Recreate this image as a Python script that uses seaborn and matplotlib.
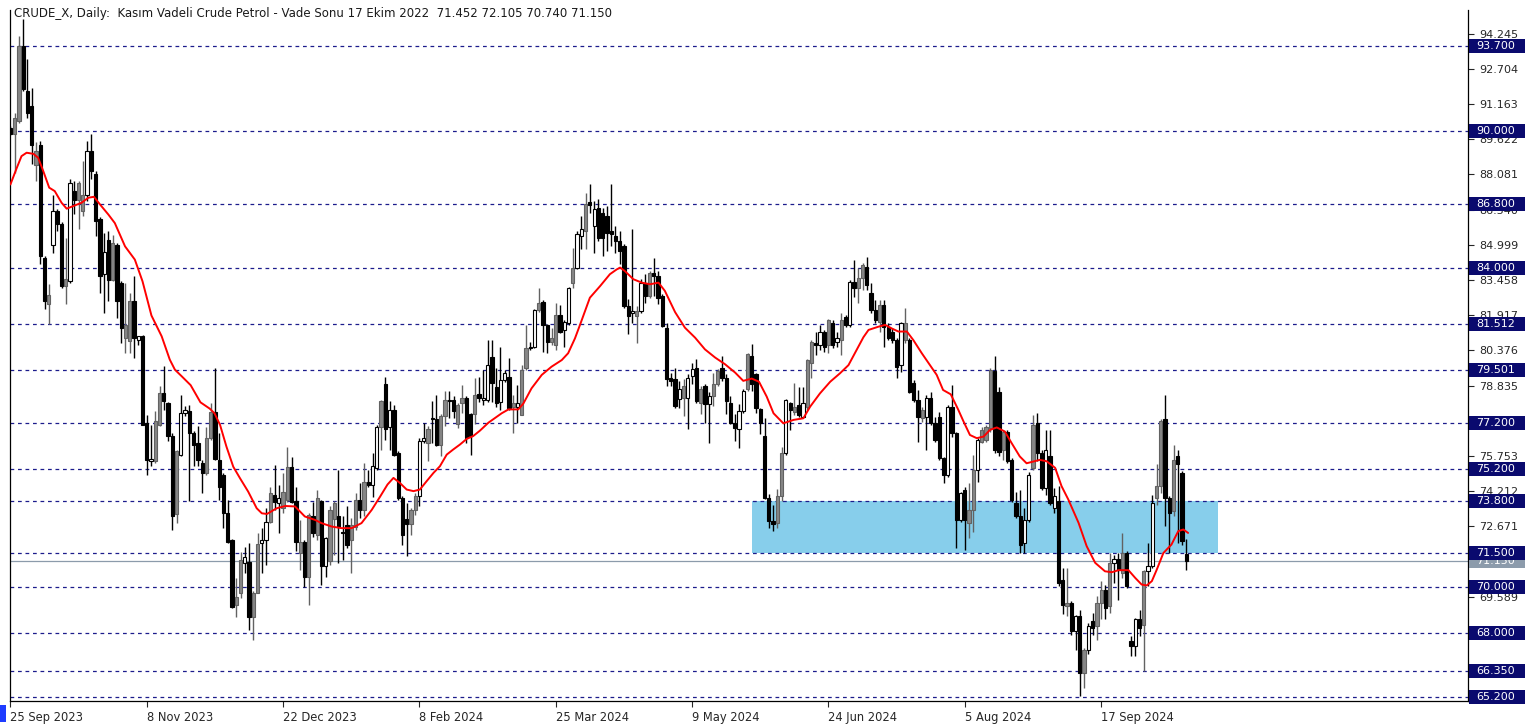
import matplotlib
matplotlib.use("Agg")
import matplotlib.pyplot as plt
import matplotlib.transforms as mtransforms
from matplotlib.patches import Rectangle
import seaborn as sns

# daily candles, bar index = trading day
opens = [90.12, 89.83, 90.42, 93.70, 91.73, 91.07, 88.50, 89.39, 84.40, 82.40,
         85.01, 86.47, 85.89, 83.20, 83.41, 87.35, 86.98, 86.47, 87.20, 89.10,
         88.08, 86.11, 83.70, 85.22, 83.47, 85.00, 83.33, 80.92, 80.77, 82.52,
         80.84, 80.99, 77.19, 75.55, 75.55, 77.12, 78.51, 78.07, 76.61, 73.20,
         75.80, 77.63, 77.70, 76.76, 76.32, 75.43, 75.00, 76.52, 77.69, 75.57,
         74.92, 73.24, 72.07, 69.22, 69.73, 71.05, 71.12, 68.71, 69.76, 71.93,
         72.07, 72.87, 74.04, 73.68, 73.46, 73.82, 75.28, 73.76, 71.49, 72.00,
         70.47, 73.10, 72.30, 73.76, 70.91, 71.13, 73.00, 73.10, 72.44, 72.73,
         72.08, 72.66, 73.83, 73.39, 74.63, 74.49, 75.22, 77.04, 78.90, 77.00,
         77.78, 75.89, 73.92, 72.97, 72.75, 73.40, 73.99, 76.40, 76.32, 77.42,
         77.35, 76.25, 77.49, 78.22, 78.22, 77.13, 78.08, 78.30, 77.57, 77.57,
         78.45, 78.20, 78.20, 80.10, 78.78, 78.13, 79.08, 79.22, 77.91, 77.91,
         77.55, 79.59, 80.54, 80.54, 82.14, 82.50, 81.49, 80.75, 80.61, 81.92,
         81.27, 81.56, 83.34, 84.00, 85.38, 85.60, 86.87, 85.82, 86.62, 86.41,
         86.26, 85.60, 85.38, 85.16, 84.95, 82.32, 82.00, 81.88, 82.10, 83.34,
         82.76, 83.78, 83.63, 82.76, 81.37, 79.18, 79.11, 78.23, 78.31, 78.31,
         79.26, 79.62, 78.09, 78.82, 78.01, 78.38, 78.89, 79.62, 79.18, 78.09,
         77.21, 76.92, 77.72, 78.67, 80.13, 79.33, 77.80, 76.63, 73.93, 72.90,
         72.80, 74.00, 75.90, 78.05, 77.69, 77.98, 77.47, 77.91, 79.81, 80.68,
         80.61, 81.20, 80.61, 81.56, 80.76, 80.83, 81.85, 81.49, 83.38, 83.09,
         83.53, 84.04, 82.87, 82.14, 81.63, 82.36, 81.41, 81.20, 80.83, 79.73,
         80.83, 80.83, 78.93, 78.20, 77.40, 77.47, 78.27, 77.18, 77.47, 75.65,
         74.92, 77.91, 76.74, 72.95, 74.27, 72.81, 73.39, 75.14, 76.38, 76.46,
         76.97, 79.45, 78.57, 76.02, 76.82, 75.58, 73.68, 73.10, 71.93, 72.95,
         75.21, 77.19, 75.88, 74.34, 75.73, 73.48, 73.77, 70.34, 69.17, 69.32,
         68.08, 68.73, 66.25, 67.27, 68.51, 68.29, 69.32, 69.90, 69.17, 71.07,
         71.24, 70.63, 71.50, 67.64, 67.42, 68.59, 68.37, 70.70, 70.92, 73.91,
         74.43, 77.35, 73.91, 73.33, 75.74, 75.01, 71.452]
highs = [90.20, 90.78, 94.14, 94.90, 93.12, 91.88, 89.50, 89.54, 84.50, 83.26,
         87.20, 86.55, 86.00, 85.31, 87.86, 87.79, 87.79, 88.66, 89.54, 89.83,
         88.23, 86.20, 85.52, 85.59, 85.44, 85.08, 83.40, 83.33, 82.89, 83.62,
         81.00, 81.06, 77.56, 77.10, 77.71, 78.80, 79.68, 78.10, 76.76, 76.03,
         78.43, 77.92, 78.00, 76.83, 77.05, 75.57, 77.03, 78.06, 79.59, 76.74,
         75.00, 73.82, 72.10, 70.39, 71.56, 71.78, 71.92, 69.84, 72.36, 72.58,
         73.46, 74.41, 75.35, 74.48, 74.99, 76.16, 75.72, 74.41, 72.95, 72.08,
         73.24, 73.75, 74.27, 73.83, 72.22, 73.54, 73.76, 75.14, 73.10, 73.54,
         73.02, 74.12, 74.56, 75.43, 75.14, 75.87, 77.11, 78.21, 79.20, 78.15,
         78.00, 75.96, 73.99, 73.70, 73.48, 74.13, 76.54, 77.20, 77.05, 78.15,
         78.44, 77.57, 78.59, 78.59, 78.37, 78.08, 78.88, 78.37, 77.64, 79.17,
         79.20, 79.50, 80.83, 80.83, 79.59, 80.54, 79.51, 80.03, 78.42, 78.86,
         79.73, 81.48, 80.75, 82.20, 83.09, 82.58, 81.55, 81.34, 82.43, 82.36,
         81.71, 83.15, 84.87, 85.60, 86.26, 87.28, 87.65, 86.92, 86.99, 86.62,
         86.70, 87.65, 85.82, 85.60, 85.02, 82.61, 85.68, 82.32, 83.49, 83.71,
         83.85, 84.44, 83.85, 82.83, 81.59, 79.40, 79.62, 79.04, 79.11, 79.33,
         79.84, 79.99, 78.82, 78.89, 78.53, 79.40, 79.55, 80.13, 79.33, 78.38,
         77.58, 78.01, 78.67, 80.28, 80.64, 79.40, 77.85, 77.43, 74.10, 73.60,
         74.30, 76.16, 78.25, 78.13, 78.93, 78.78, 78.78, 80.00, 80.83, 81.20,
         81.49, 81.27, 81.75, 81.70, 81.20, 81.99, 81.92, 83.46, 84.33, 83.97,
         84.19, 84.48, 83.31, 82.58, 82.58, 82.58, 81.56, 81.34, 80.90, 81.60,
         82.21, 80.90, 79.08, 78.64, 77.91, 78.42, 78.57, 77.47, 77.69, 75.72,
         77.98, 78.86, 76.81, 74.19, 74.41, 74.56, 75.80, 76.53, 77.04, 77.11,
         79.60, 80.11, 78.79, 76.89, 76.89, 75.65, 74.19, 74.27, 73.46, 75.07,
         77.55, 77.63, 76.02, 76.89, 76.89, 74.35, 74.43, 70.85, 70.85, 69.39,
         68.80, 69.02, 67.34, 68.44, 68.88, 69.61, 70.26, 70.12, 71.50, 71.43,
         71.50, 72.38, 71.58, 67.86, 68.66, 69.02, 70.75, 71.94, 74.06, 75.38,
         77.35, 78.44, 73.99, 76.25, 76.03, 75.08, 72.105]
lows = [89.80, 88.15, 90.35, 91.73, 90.56, 88.52, 87.80, 84.14, 82.17, 81.51,
        84.65, 85.60, 83.12, 82.39, 83.34, 86.33, 85.67, 86.25, 86.91, 87.86,
        85.38, 82.90, 82.01, 82.52, 83.40, 81.80, 80.70, 80.26, 80.26, 80.04,
        80.62, 77.10, 74.93, 75.30, 75.44, 77.05, 77.78, 76.40, 72.52, 72.80,
        75.74, 77.49, 73.80, 75.30, 75.30, 74.11, 74.92, 76.45, 75.57, 73.82,
        72.58, 71.93, 69.08, 68.71, 69.51, 70.61, 68.13, 67.69, 69.73, 70.61,
        70.97, 72.80, 73.39, 72.36, 73.24, 73.75, 73.68, 71.57, 70.76, 70.03,
        69.23, 72.22, 72.08, 70.10, 70.47, 70.98, 71.42, 71.05, 71.20, 71.71,
        70.61, 72.51, 73.02, 73.10, 74.41, 73.97, 75.14, 76.02, 76.47, 76.03,
        75.74, 73.84, 71.87, 71.36, 72.31, 73.18, 73.55, 76.32, 75.52, 76.32,
        76.18, 75.74, 77.05, 77.42, 77.40, 76.98, 77.64, 76.32, 75.81, 77.13,
        78.10, 78.00, 78.13, 78.13, 77.91, 77.76, 79.00, 77.76, 76.74, 77.20,
        77.55, 79.51, 80.39, 80.50, 82.07, 80.32, 80.25, 80.61, 80.39, 81.12,
        80.54, 81.49, 83.12, 83.92, 84.80, 84.80, 86.41, 84.65, 85.16, 84.51,
        84.73, 84.95, 84.65, 84.14, 82.24, 81.07, 81.59, 80.71, 82.03, 82.46,
        82.68, 82.76, 82.39, 81.40, 78.82, 78.82, 77.87, 77.87, 77.50, 76.92,
        78.89, 78.09, 77.58, 77.21, 76.34, 77.94, 78.82, 79.04, 77.58, 77.14,
        76.41, 76.12, 77.65, 78.60, 78.60, 77.65, 76.70, 73.85, 72.60, 72.45,
        72.60, 73.80, 75.80, 76.89, 77.54, 77.47, 77.40, 77.76, 79.15, 80.17,
        80.39, 80.32, 80.25, 80.46, 80.54, 80.17, 81.41, 81.41, 82.73, 82.43,
        83.02, 83.02, 82.00, 81.56, 81.20, 80.54, 80.83, 80.68, 79.15, 79.44,
        80.68, 78.49, 78.13, 76.38, 77.25, 76.01, 77.10, 76.38, 75.57, 74.55,
        74.84, 76.60, 71.71, 72.88, 71.64, 72.15, 72.44, 74.63, 76.31, 76.38,
        76.82, 75.87, 75.73, 75.58, 75.43, 73.75, 73.02, 71.49, 71.49, 72.88,
        75.14, 75.51, 74.27, 74.05, 73.62, 73.26, 70.05, 68.81, 68.73, 67.93,
        67.27, 65.23, 65.59, 67.06, 67.93, 67.71, 68.59, 68.59, 68.88, 70.19,
        69.46, 70.41, 69.97, 66.98, 66.98, 67.86, 66.32, 70.05, 70.85, 73.62,
        74.14, 72.67, 71.50, 73.11, 71.94, 71.87, 70.74]
closes = [89.86, 90.56, 93.70, 91.80, 90.78, 89.39, 89.10, 84.50, 82.53, 82.80,
          86.47, 85.89, 83.19, 83.48, 87.71, 86.98, 87.71, 87.20, 89.10, 88.23,
          86.04, 83.63, 84.70, 83.47, 85.08, 82.52, 81.36, 81.50, 82.52, 80.92,
          80.99, 77.12, 75.59, 75.62, 77.27, 78.51, 78.14, 76.61, 73.11, 75.96,
          77.63, 77.78, 76.76, 76.25, 75.59, 74.99, 76.52, 77.69, 75.60, 74.41,
          73.24, 72.00, 69.15, 69.59, 71.19, 71.34, 68.71, 69.76, 71.90, 72.07,
          72.87, 74.11, 73.75, 73.90, 74.19, 75.28, 73.75, 72.00, 72.00, 70.47,
          73.17, 72.37, 73.90, 70.91, 72.15, 73.39, 73.68, 72.66, 72.37, 71.86,
          72.73, 73.83, 73.39, 74.63, 74.49, 75.29, 77.04, 78.14, 76.95, 77.78,
          75.81, 73.92, 72.31, 72.75, 73.40, 73.99, 76.40, 76.54, 76.91, 77.35,
          76.25, 77.49, 78.22, 78.15, 77.71, 78.00, 78.30, 76.54, 76.62, 78.44,
          78.27, 78.27, 79.74, 78.93, 78.05, 79.08, 79.37, 77.83, 78.05, 78.05,
          79.51, 80.46, 80.46, 82.14, 82.43, 81.49, 80.75, 80.90, 81.92, 81.20,
          81.63, 83.09, 84.00, 85.45, 85.68, 86.77, 86.72, 86.55, 85.31, 85.31,
          85.53, 85.46, 85.16, 84.73, 82.32, 81.88, 82.10, 82.10, 83.34, 82.76,
          83.78, 83.63, 82.68, 81.44, 79.11, 79.04, 77.94, 78.67, 78.82, 79.18,
          79.55, 78.16, 78.67, 78.01, 78.38, 78.89, 79.48, 79.18, 78.16, 77.21,
          76.99, 77.72, 78.60, 80.20, 78.90, 77.87, 77.21, 73.93, 72.90, 72.75,
          74.00, 75.90, 78.20, 77.76, 77.91, 77.54, 78.05, 79.95, 80.76, 80.61,
          81.20, 80.54, 81.70, 80.61, 80.90, 81.70, 81.49, 83.38, 83.09, 83.53,
          84.11, 83.24, 82.14, 81.70, 82.36, 81.41, 80.90, 80.83, 79.66, 81.56,
          81.56, 78.57, 78.20, 77.47, 77.76, 78.27, 77.18, 76.45, 75.65, 74.92,
          77.91, 76.74, 72.95, 74.12, 72.95, 73.39, 75.14, 76.46, 76.89, 77.04,
          79.52, 76.02, 75.94, 76.82, 75.51, 73.83, 73.10, 71.86, 72.95, 74.92,
          77.11, 75.88, 74.34, 76.02, 73.70, 73.99, 70.19, 69.24, 69.32, 68.08,
          68.73, 66.25, 67.27, 68.29, 68.22, 69.32, 69.90, 69.10, 71.07, 71.24,
          70.77, 71.50, 70.05, 67.42, 68.59, 68.22, 70.70, 70.92, 73.70, 74.43,
          77.27, 73.91, 73.26, 75.59, 75.38, 72.02, 71.15]
# body style per candle (b = black, w = white, g = grey), ten candles per chunk
kinds = "".join(["bggbbbgbbg", "wbbgwbggwb", "bbwbgbbggb", "wbbwggbbbg", "wwbbbbggbb",
                 "bbbggwbggw", "wgbwggbbgb", "gbgbwggbbb", "ggbgbwwgbw", "bbbbggwwgb",
                 "bggbbggbbg", "bwwbbwwbgw", "ggbwgbbggb", "wwgwwgbwbb", "bbbbbbwgwb",
                 "gbbbbbbwgw", "wbgbwggbbb", "bwwgbbbbbb", "ggwbgbwggb", "wbgbwgbwbg",
                 "gbbbgbbbbw", "gbbbgwbbbb", "wbbwbggwgg", "gbbgbbbbww", "gbbwbwbbgb",
                 "wbgwbggbgw", "bgbbwbgwwg", "gbbgbbb"])

# red moving average, sampled along the chart: (bar, price)
ma_x = [0, 1.5, 2.6, 3.8, 5.4, 6.5, 7.7, 9.1, 10.4, 12, 13.2, 14.7, 16.7, 18.3, 19.6,
        21, 23, 24.5, 26.9, 29.2, 31, 33.1, 35.5, 37.4, 38.6, 40.2, 42.3, 44.6, 46.8,
        47.9, 49.2, 50.7, 52.3, 53.9, 55.8, 57.8, 59, 60.2, 62.5, 64.5, 66.8, 69.1,
        71.5, 73, 75.4, 77.7, 80.1, 82.4, 84.8, 86.7, 88.5, 89.9, 91.4, 93, 94.6, 96.1,
        97.7, 99.3, 100.8, 102.4, 103.9, 105.5, 107.1, 108.6, 110.2, 112.2, 115.3,
        116.9, 119.2, 120.4, 122.3, 124.7, 127, 129.4, 130.9, 132.5, 133.7, 136, 138.4,
        140.7, 142.3, 143.1, 144.2, 146.2, 148.2, 150.1, 152.1, 153.6, 156, 158.3,
        160.7, 163, 165.4, 167.7, 170.1, 172, 174, 175.7, 177.5, 179.1, 181.4, 183.8,
        186.1, 187.7, 190, 192.4, 194.7, 196.7, 198.6, 200.2, 201.4, 203.7, 205.3,
        206.8, 208.4, 210.4, 211.9, 213.9, 215.8, 217.4, 218.9, 220.7, 222.4, 223.7,
        225.2, 226.8, 228.4, 229.9, 231.5, 233.4, 235, 236.9, 238.5, 240.1, 241.6,
        243.2, 245.2, 246.7, 248.3, 250.7, 252.6, 254.6, 256.9, 258.5, 260.1, 262.4,
        264, 265.5, 266.7, 267.9, 269, 270.6, 272.5, 274.1, 275.3, 276.4]
ma_y = [87.64, 88.37, 88.88, 89.03, 88.98, 88.81, 88.23, 87.50, 87.35, 86.84, 86.58,
        86.69, 86.84, 87.06, 87.10, 86.77, 86.32, 85.95, 84.93, 84.35, 83.40, 81.90,
        80.99, 79.97, 79.53, 79.24, 78.85, 78.10, 77.82, 77.62, 77.11, 76.16, 75.28,
        74.77, 74.19, 73.46, 73.24, 73.21, 73.46, 73.56, 73.54, 73.10, 72.95, 72.81,
        72.66, 72.59, 72.59, 72.81, 73.39, 73.95, 74.50, 74.79, 74.57, 74.28, 74.21,
        74.28, 74.65, 75.01, 75.30, 75.81, 76.03, 76.25, 76.50, 76.62, 76.86, 77.21,
        77.62, 77.79, 77.79, 78.05, 78.71, 79.30, 79.66, 79.95, 80.25, 80.90, 81.50,
        82.68, 83.19, 83.71, 83.92, 84.00, 83.85, 83.49, 83.34, 83.27, 83.34, 82.98,
        82.05, 81.37, 80.93, 80.42, 80.06, 79.77, 79.40, 79.04, 79.14, 79.00, 78.35,
        77.62, 77.18, 77.33, 77.40, 77.91, 78.49, 79.00, 79.37, 79.73, 80.39, 80.95,
        81.27, 81.41, 81.49, 81.34, 81.20, 81.20, 80.83, 80.25, 79.73, 79.30, 78.64,
        78.45, 77.80, 77.26, 76.67, 76.53, 76.60, 76.89, 77.00, 76.82, 76.31, 75.73,
        75.43, 75.51, 75.58, 75.52, 75.23, 74.43, 73.84, 72.82, 71.80, 71.07, 70.70,
        70.66, 70.75, 70.75, 70.41, 70.12, 70.08, 70.27, 70.75, 71.50, 71.87, 72.46,
        72.53, 72.38]

levels = [93.700, 90.000, 86.800, 84.000, 81.512, 79.501, 77.200, 75.200,
          73.800, 71.500, 70.000, 68.000, 66.350, 65.200]
last_price = 71.150
zone_low, zone_high = 71.5, 73.8
zone_start, zone_end = 174, 283.4

price_ticks = [94.245, 92.704, 91.163, 89.622, 88.081, 86.540, 84.999, 83.458,
               81.917, 80.376, 78.835, 77.294, 75.753, 74.212, 72.671, 71.130,
               69.589, 68.048, 66.507]
# tick values whose labels sit fully under a price box on the chart
hidden_ticks = [77.294, 71.130, 68.048, 66.507]
date_bars = [0, 32, 64, 96, 128, 160, 192, 224, 256]
date_labels = ["25 Sep 2023", "8 Nov 2023", "22 Dec 2023", "8 Feb 2024", "25 Mar 2024",
               "9 May 2024", "24 Jun 2024", "5 Aug 2024", "17 Sep 2024"]

title = ("CRUDE_X, Daily:  Kasım Vadeli Crude Petrol - Vade Sonu 17 Ekim 2022  "
         "71.452 72.105 70.740 71.150")

sns.set_style("white")
plt.rcParams["font.family"] = ["DejaVu Sans"]

W, H = 1538, 724
fig = plt.figure(figsize=(W / 100, H / 100), dpi=100)
ax = fig.add_axes([10 / W, 1 - 701 / H, 1458 / W, 691 / H])

LEVEL_COL = "#1c1c8c"
BOX_COL = "#0a0a6e"
LAST_COL = "#8c9bab"

# support/resistance zone
ax.add_patch(Rectangle((zone_start, zone_low), zone_end - zone_start, zone_high - zone_low,
                       facecolor="#87ceeb", edgecolor="none", zorder=1))

for lv in levels:
    ax.axhline(lv, color=LEVEL_COL, lw=0.9, ls=(0, (3, 3)), zorder=2)
ax.axhline(last_price, color=LAST_COL, lw=0.9, zorder=2)

# candles
fills = {"b": "black", "w": "white", "g": "#868686"}
edges = {"b": "black", "w": "black", "g": "#626262"}
for i, (o, h, l, c) in enumerate(zip(opens, highs, lows, closes)):
    k = kinds[i]
    ax.vlines(i, l, h, color=edges[k], lw=1.0, zorder=3)
    body = max(abs(c - o), 0.03)
    ax.bar(i, body, bottom=min(o, c), width=0.76, color=fills[k],
           edgecolor=edges[k], linewidth=0.8, zorder=4)

sns.lineplot(x=ma_x, y=ma_y, color="red", lw=1.4, ax=ax, estimator=None, sort=False,
             zorder=5)

ax.set_xlim(-0.1, 342.1)
ax.set_ylim(65.02, 95.28)

ax.spines["top"].set_visible(False)
for s in ["left", "right", "bottom"]:
    ax.spines[s].set_color("black")
    ax.spines[s].set_linewidth(0.9)

ax.yaxis.tick_right()
ax.set_yticks(price_ticks)
ax.set_yticklabels(["" if t in hidden_ticks else f"{t:.3f}" for t in price_ticks],
                   fontsize=8)
ax.tick_params(axis="y", length=4, width=0.8, pad=4, right=True, left=False)

ax.set_xticks(date_bars)
ax.set_xticklabels(date_labels, fontsize=8.3, ha="left")
ax.tick_params(axis="x", length=4, width=0.8, pad=3, bottom=True)
ax.set_xlabel("")
ax.set_ylabel("")

# price boxes just right of the axis (fixed width, 14 px tall)
trans = mtransforms.blended_transform_factory(ax.transAxes, ax.transData)
px_x = 1.0 / 1458
box_h = 14 / (691 / (95.28 - 65.02))


def price_box(value, colour, z):
    ax.add_patch(Rectangle((1 + 1 * px_x, value - box_h / 2), 56 * px_x, box_h,
                           transform=trans, facecolor=colour, edgecolor="none",
                           clip_on=False, zorder=z))
    ax.text(1 + 8 * px_x, value, f"{value:.3f}", transform=trans, fontsize=8,
            color="white", va="center", ha="left", zorder=z + 1, clip_on=False)


price_box(last_price, LAST_COL, 8)
for lv in levels:
    price_box(lv, BOX_COL, 10)

fig.text(14 / W, 1 - 13 / H, title, fontsize=8.5, color="#1a1a1a", va="center", ha="left")

# small marker in the lower-left corner
fig.patches.append(Rectangle((0, 2 / H), 6 / W, 17 / H, transform=fig.transFigure,
                             facecolor="#1e3cff", edgecolor="none"))

fig.savefig("out.png", dpi=100)
